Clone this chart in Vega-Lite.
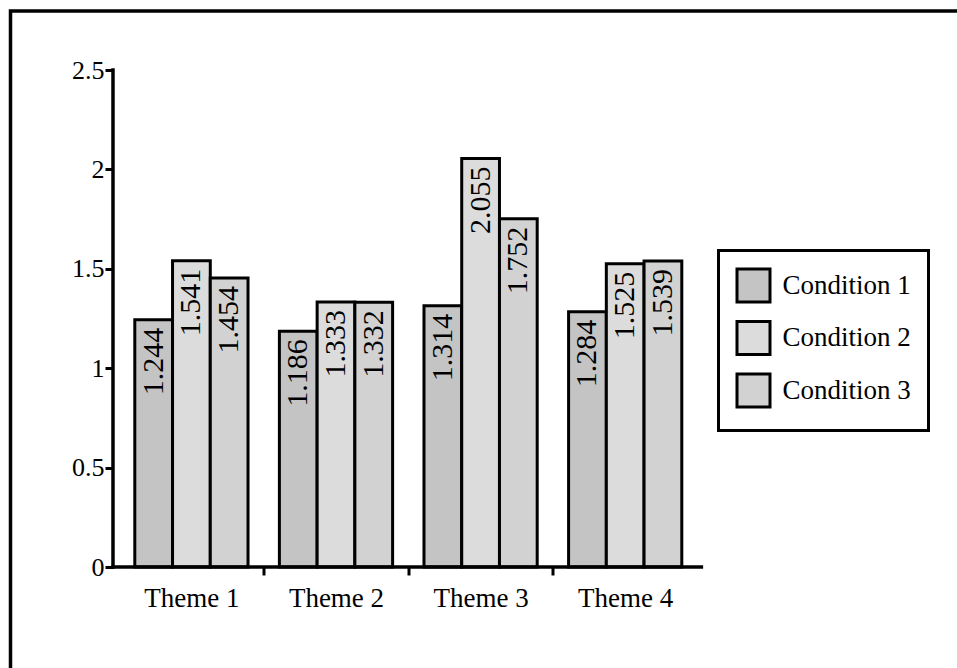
{
  "$schema": "https://vega.github.io/schema/vega-lite/v6.json",
  "width": 946.5,
  "height": 657,
  "autosize": {"type": "none"},
  "padding": {"left": 10.5, "top": 11, "right": 0, "bottom": 0},
  "background": "white",
  "config": {
    "view": {"stroke": "black", "strokeWidth": 3.5, "fill": "white", "strokeCap": "square", "strokeDash": [946.5, 1603.5, 670]},
    "font": "Liberation Serif",
    "axis": {"grid": false, "labelColor": "black", "tickColor": "black", "labelFont": "Liberation Serif"},
    "legend": {"labelFont": "Liberation Serif", "labelColor": "black", "strokeWidth": 3}
  },
  "data": {
    "values": [
      {"theme": "Theme 1", "condition": "Condition 1", "value": 1.244},
      {"theme": "Theme 1", "condition": "Condition 2", "value": 1.541},
      {"theme": "Theme 1", "condition": "Condition 3", "value": 1.454},
      {"theme": "Theme 2", "condition": "Condition 1", "value": 1.186},
      {"theme": "Theme 2", "condition": "Condition 2", "value": 1.333},
      {"theme": "Theme 2", "condition": "Condition 3", "value": 1.332},
      {"theme": "Theme 3", "condition": "Condition 1", "value": 1.314},
      {"theme": "Theme 3", "condition": "Condition 2", "value": 2.055},
      {"theme": "Theme 3", "condition": "Condition 3", "value": 1.752},
      {"theme": "Theme 4", "condition": "Condition 1", "value": 1.284},
      {"theme": "Theme 4", "condition": "Condition 2", "value": 1.525},
      {"theme": "Theme 4", "condition": "Condition 3", "value": 1.539}
    ]
  },
  "layer": [
    {
      "mark": {"type": "bar", "stroke": "black", "strokeWidth": 3, "strokeJoin": "miter"},
      "encoding": {
        "x": {
          "field": "theme", "type": "nominal",
          "scale": {"paddingInner": 0.217, "paddingOuter": 0, "range": [124.3, 671.3]},
          "axis": {
            "title": null, "domain": false, "labelAngle": 0, "labelFontSize": 27,
            "labelPadding": 10, "tickBand": "center", "tickOffset": 72.3, "labelOffset": -72.3,
            "tickSize": 8, "tickWidth": 3,
            "tickOpacity": {"condition": {"test": "datum.value === 'Theme 4'", "value": 0}, "value": 1},
            "offset": -101
          }
        },
        "xOffset": {"field": "condition", "type": "nominal"},
        "y": {
          "field": "value", "type": "quantitative",
          "scale": {"domain": [-0.508, 2.797], "nice": false, "zero": false},
          "axis": {
            "title": null, "domain": false, "values": [0, 0.5, 1, 1.5, 2, 2.5], "format": "~g",
            "labelFontSize": 26, "labelPadding": 1, "tickSize": 8, "tickWidth": 3,
            "offset": -102.5
          }
        },
        "y2": {"datum": 0},
        "fill": {
          "field": "condition", "type": "nominal",
          "scale": {"range": ["#c4c4c4", "#dcdcdc", "#d2d2d2"]},
          "legend": {
            "title": null, "orient": "none", "legendX": 708, "legendY": 239.5,
            "strokeColor": "black", "fillColor": "white", "padding": 17,
            "symbolType": "square", "symbolSize": 1089, "symbolStrokeColor": "black",
            "symbolStrokeWidth": 3, "symbolOpacity": 1, "labelFontSize": 27, "labelOffset": 11,
            "rowPadding": 6.5
          }
        }
      }
    },
    {
      "mark": {"type": "text", "angle": 270, "align": "right", "baseline": "middle", "dx": -8, "fontSize": 30, "font": "Liberation Serif", "color": "black"},
      "encoding": {
        "x": {"field": "theme", "type": "nominal"},
        "xOffset": {"field": "condition", "type": "nominal"},
        "y": {"field": "value", "type": "quantitative"},
        "text": {"field": "value", "type": "quantitative", "format": ".3f"}
      }
    },
    {
      "data": {"values": [{}]},
      "mark": {"type": "rule", "color": "black", "strokeWidth": 3.5, "strokeCap": "square"},
      "encoding": {
        "x": {"datum": "Theme 1", "type": "nominal", "bandPosition": -0.1926},
        "y": {"datum": 0, "type": "quantitative"},
        "y2": {"datum": 2.5}
      }
    },
    {
      "data": {"values": [{}]},
      "mark": {"type": "rule", "color": "black", "strokeWidth": 3.5, "strokeCap": "square"},
      "encoding": {
        "x": {"datum": "Theme 1", "type": "nominal", "bandPosition": -0.1926},
        "x2": {"datum": "Theme 4", "bandPosition": 1.173},
        "y": {"datum": 0, "type": "quantitative"}
      }
    }
  ]
}
